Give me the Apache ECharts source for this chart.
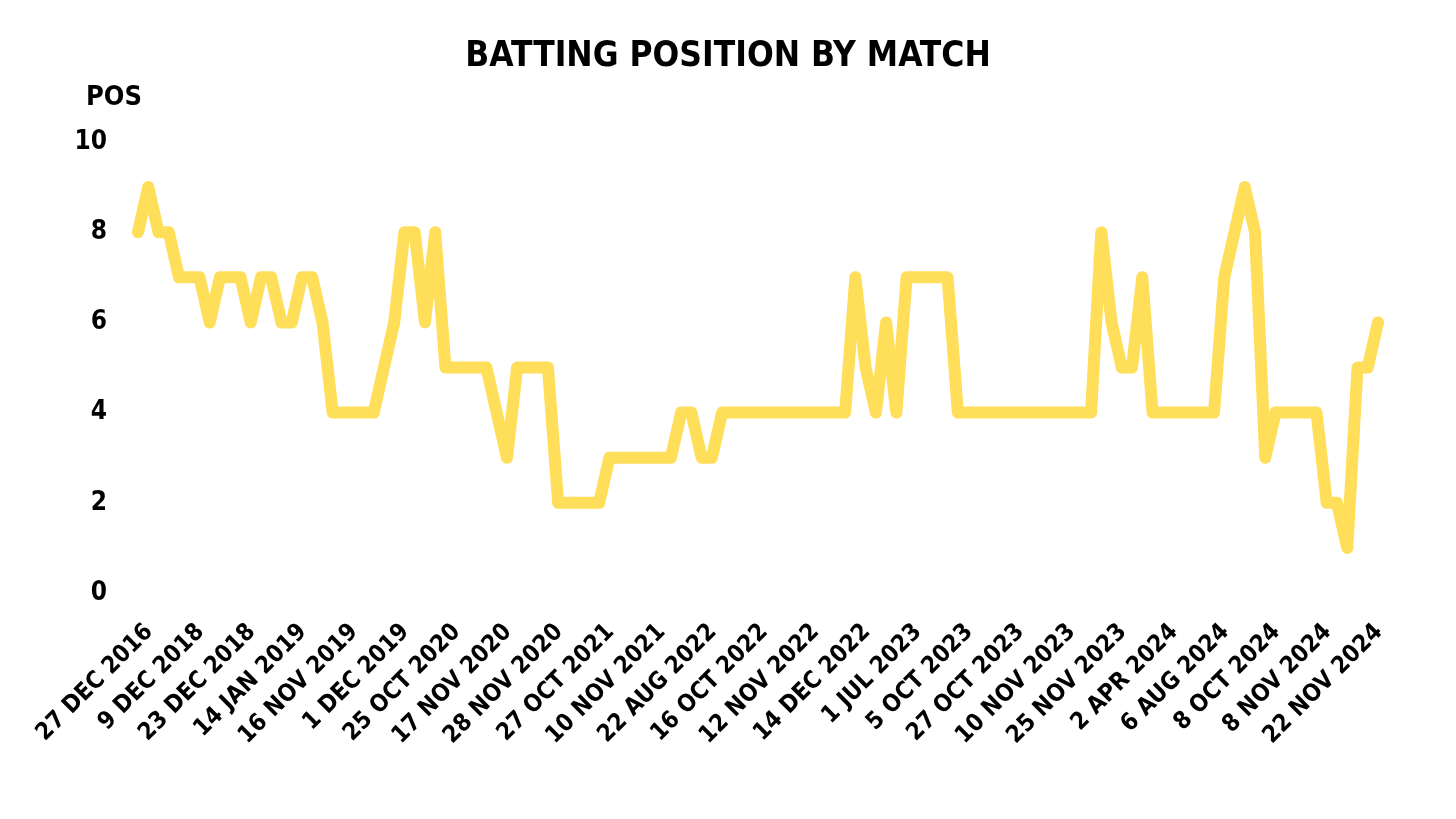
<!DOCTYPE html>
<html>
<head>
<meta charset="utf-8">
<style>
  html, body { margin: 0; padding: 0; background: #ffffff; }
  #chart { width: 1456px; height: 819px; }
</style>
<script src="https://cdn.jsdelivr.net/npm/echarts@6/dist/echarts.min.js"></script>
</head>
<body>
<div id="chart"></div>
<script>
// ---- Data ----
const chartTitle = 'BATTING POSITION BY MATCH';
const yAxisTitle = 'POS';

// Labels shown under every 5th match
const tickLabels = [
  '27 DEC 2016', '9 DEC 2018', '23 DEC 2018', '14 JAN 2019', '16 NOV 2019',
  '1 DEC 2019', '25 OCT 2020', '17 NOV 2020', '28 NOV 2020', '27 OCT 2021',
  '10 NOV 2021', '22 AUG 2022', '16 OCT 2022', '12 NOV 2022', '14 DEC 2022',
  '1 JUL 2023', '5 OCT 2023', '27 OCT 2023', '10 NOV 2023', '25 NOV 2023',
  '2 APR 2024', '6 AUG 2024', '8 OCT 2024', '8 NOV 2024', '22 NOV 2024'
];

// Batting position in each match, in order
const positions = [
  8, 9, 8, 8, 7, 7, 7, 6, 7, 7,
  7, 6, 7, 7, 6, 6, 7, 7, 6, 4,
  4, 4, 4, 4, 5, 6, 8, 8, 6, 8,
  5, 5, 5, 5, 5, 4, 3, 5, 5, 5,
  5, 2, 2, 2, 2, 2, 3, 3, 3, 3,
  3, 3, 3, 4, 4, 3, 3, 4, 4, 4,
  4, 4, 4, 4, 4, 4, 4, 4, 4, 4,
  7, 5, 4, 6, 4, 7, 7, 7, 7, 7,
  4, 4, 4, 4, 4, 4, 4, 4, 4, 4,
  4, 4, 4, 4, 8, 6, 5, 5, 7, 4,
  4, 4, 4, 4, 4, 4, 7, 8, 9, 8,
  3, 4, 4, 4, 4, 4, 2, 2, 1, 5,
  5, 6
];

const yTicks = [0, 2, 4, 6, 8, 10];
const labelEvery = 5;

// ---- Chart ----
const FONT = "'DejaVu Sans Condensed', 'Liberation Sans Narrow', 'DejaVu Sans', sans-serif";
const matchIndex = positions.map((_, i) => String(i));

const chart = echarts.init(document.getElementById('chart'), null, { renderer: 'canvas' });
chart.setOption({
  backgroundColor: '#ffffff',
  animation: false,
  title: [
    {
      text: chartTitle,
      left: 'center',
      top: 34,
      textStyle: { fontFamily: FONT, fontWeight: 'bold', fontSize: 35, color: '#000000' }
    },
    {
      text: yAxisTitle,
      left: 81,
      top: 79,
      textStyle: { fontFamily: FONT, fontWeight: 'bold', fontSize: 27, color: '#000000' }
    }
  ],
  grid: { left: 138, right: 78, top: 142, bottom: 226, containLabel: false, outerBoundsMode: 'none' },
  xAxis: {
    type: 'category',
    data: matchIndex,
    boundaryGap: false,
    axisLine: { show: false },
    axisTick: { show: false },
    splitLine: { show: false },
    axisLabel: {
      interval: labelEvery - 1,
      rotate: 45,
      margin: 24,
      verticalAlign: 'top',
      lineHeight: 32,
      hideOverlap: false,
      fontFamily: FONT,
      fontWeight: 'bold',
      fontSize: 24,
      color: '#000000',
      formatter: function (value, index) {
        return tickLabels[Math.round(index / labelEvery)] || '';
      }
    }
  },
  yAxis: {
    type: 'value',
    min: yTicks[0],
    max: yTicks[yTicks.length - 1],
    interval: yTicks[1] - yTicks[0],
    axisLine: { show: false },
    axisTick: { show: false },
    splitLine: { show: false },
    axisLabel: {
      margin: 31,
      fontFamily: FONT,
      fontWeight: 'bold',
      fontSize: 26,
      color: '#000000'
    }
  },
  series: [
    {
      type: 'line',
      data: positions,
      showSymbol: false,
      symbol: 'none',
      smooth: false,
      lineStyle: { color: '#FFDE59', width: 12, cap: 'round', join: 'round' },
      itemStyle: { color: '#FFDE59' }
    }
  ]
});
</script>
</body>
</html>
